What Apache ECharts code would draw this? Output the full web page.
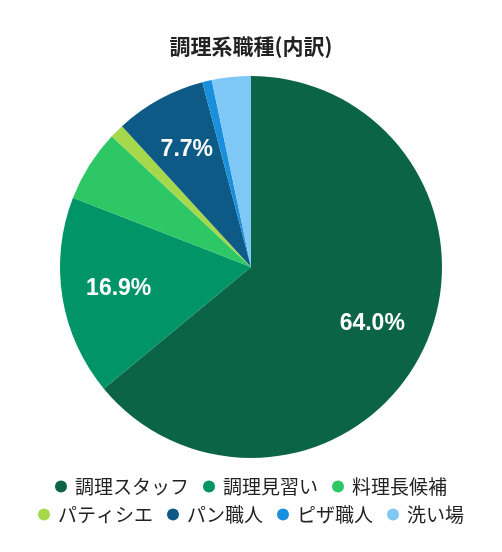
<!DOCTYPE html>
<html>
<head>
<meta charset="utf-8">
<script src="https://cdn.jsdelivr.net/npm/echarts@6/dist/echarts.min.js"></script>
<style>
    html, body { margin: 0; padding: 0; background: #fff; }
    #chart { width: 502px; height: 552px; }
</style>
</head>
<body>
<div id="chart"></div>
<script>
// 調理系職種の内訳（%）
var categories = ['調理スタッフ', '調理見習い', '料理長候補', 'パティシエ', 'パン職人', 'ピザ職人', '洗い場'];
var values = [64.0, 16.9, 6.1, 1.2, 7.7, 0.8, 3.3];
var colors = ['#0b6446', '#009466', '#2ec766', '#a5d84b', '#0e5a87', '#1a90dc', '#7fc8f5'];
var legendRow1 = ['調理スタッフ', '調理見習い', '料理長候補'];
var legendRow2 = ['パティシエ', 'パン職人', 'ピザ職人', '洗い場'];

var pieData = categories.map(function (name, i) {
    return { name: name, value: values[i] };
});

var fontJP = '"Noto Sans CJK JP", sans-serif';

var legendBase = {
    left: 'center',
    icon: 'circle',
    itemWidth: 18,
    itemHeight: 12,
    itemGap: 14,
    selectedMode: false,
    textStyle: {
        color: '#222',
        fontSize: 19,
        fontFamily: fontJP
    }
};

var chart = echarts.init(document.getElementById('chart'));
var option = {
    color: colors,
    title: {
        text: '調理系職種(内訳)',
        left: 'center',
        top: 31,
        textStyle: {
            color: '#222',
            fontSize: 21,
            fontWeight: 'bold',
            fontFamily: fontJP
        }
    },
    legend: [
        Object.assign({}, legendBase, { data: legendRow1, top: 472 }),
        Object.assign({}, legendBase, { data: legendRow2, top: 500 })
    ],
    series: [
        {
            type: 'pie',
            center: [251, 267],
            radius: [0, 191],
            startAngle: 90,
            data: pieData,
            label: { show: false },
            labelLine: { show: false },
            itemStyle: { borderWidth: 0 }
        },
        {
            // 透明な外側リングでラベル位置だけを決める
            type: 'pie',
            center: [251, 267],
            radius: [0, 262],
            startAngle: 90,
            silent: true,
            legendHoverLink: false,
            data: pieData,
            itemStyle: { color: 'rgba(0,0,0,0)' },
            labelLine: { show: false },
            label: {
                show: true,
                position: 'inside',
                color: '#fff',
                fontSize: 23,
                fontWeight: 'bold',
                fontFamily: '"Liberation Sans", Arial, sans-serif',
                formatter: function (p) {
                    return p.value >= 7 ? p.value.toFixed(1) + '%' : '';
                }
            }
        }
    ]
};
chart.setOption(option);
window.addEventListener('resize', function () {
    chart.resize();
});
</script>
</body>
</html>
